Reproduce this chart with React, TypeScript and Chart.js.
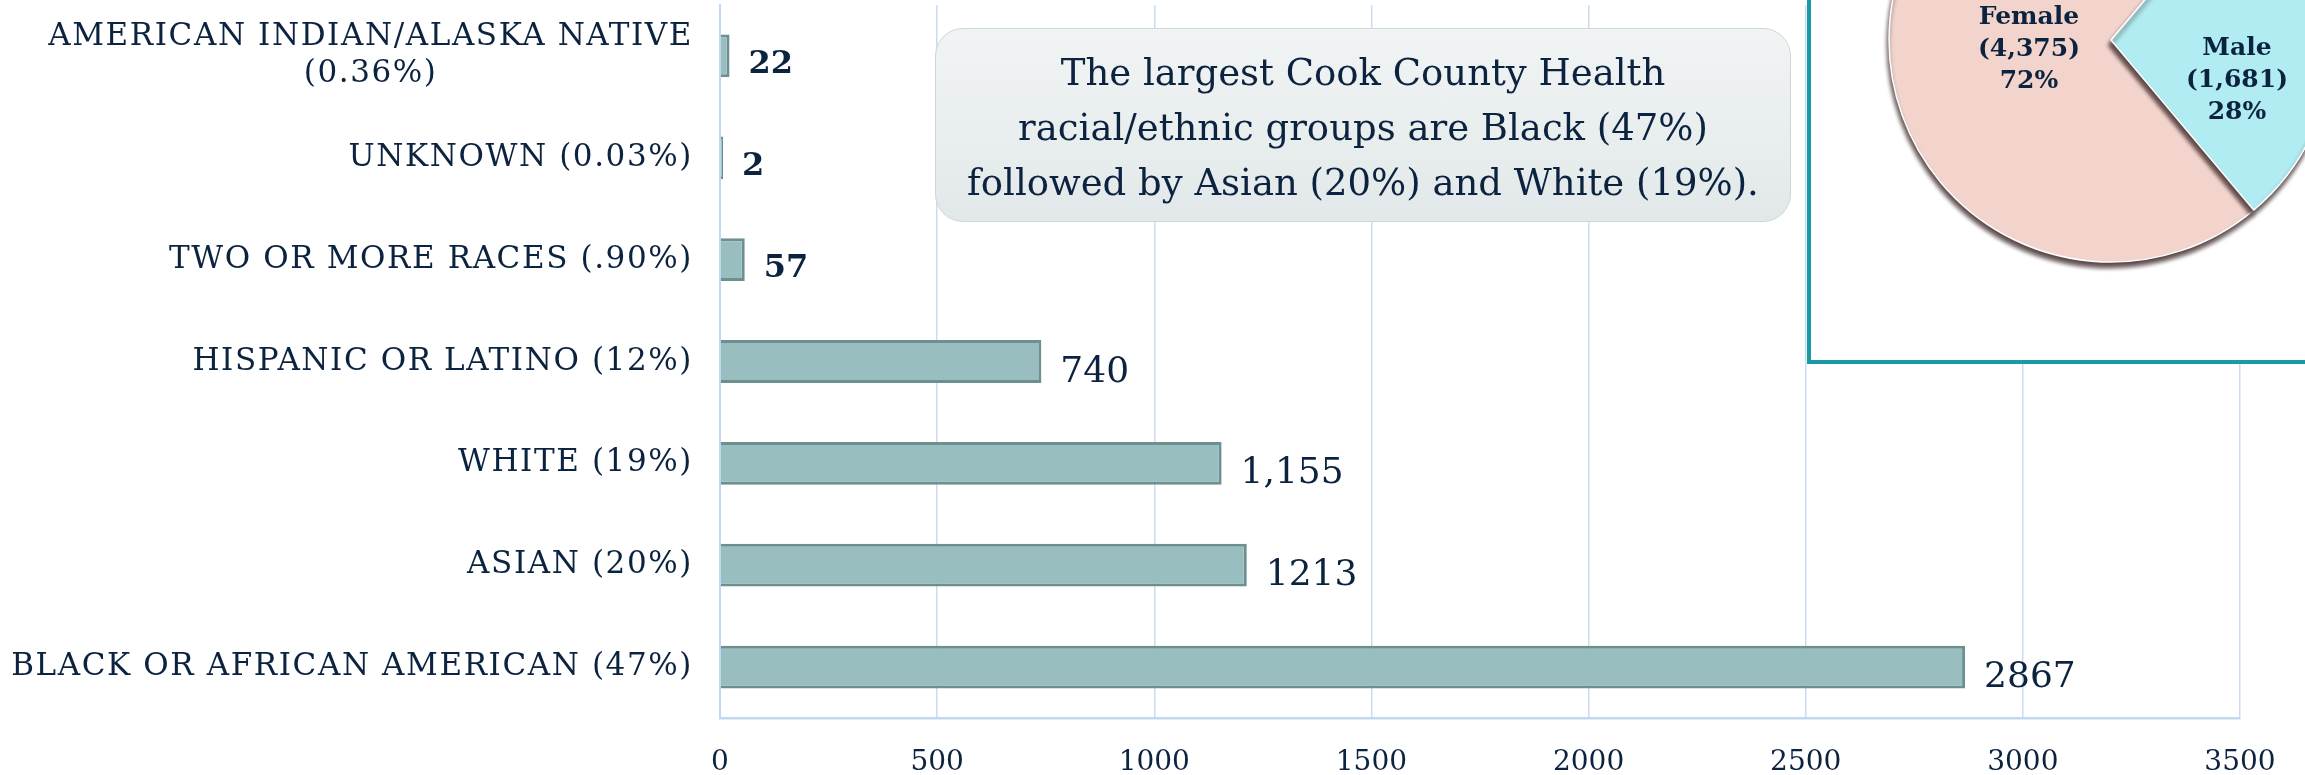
import React, { useEffect, useRef } from "react";
import { Chart, registerables } from "chart.js";

Chart.register(...registerables);

// ---------- data ----------
const categoryLabels: string[][] = [
  ["AMERICAN INDIAN/ALASKA NATIVE", "(0.36%)"],
  ["UNKNOWN (0.03%)"],
  ["TWO OR MORE RACES (.90%)"],
  ["HISPANIC OR LATINO (12%)"],
  ["WHITE (19%)"],
  ["ASIAN (20%)"],
  ["BLACK OR AFRICAN AMERICAN (47%)"],
];
const employeeCounts = [22, 2, 57, 740, 1155, 1213, 2867];
const countLabels = ["22", "2", "57", "740", "1,155", "1213", "2867"];
const xTickValues = [0, 500, 1000, 1500, 2000, 2500, 3000, 3500];

const genderLabels = ["Female", "Male"];
const genderCounts = [4375, 1681];
const genderPercents = ["72%", "28%"];

const calloutLines = [
  "The largest Cook County Health",
  "racial/ethnic groups are Black (47%)",
  "followed by Asian (20%) and White (19%).",
];

// ---------- styles ----------
const NAVY = "#0c2340";
const SERIF = '"DejaVu Serif", "Liberation Serif", serif';
const pieLabelOffsets = [
  [29, 10],
  [15, 40],
];

const yLabelPlugin = {
  id: "yLabels",
  afterDraw(chart: any) {
    const ys = chart.scales.y;
    const ctx = chart.ctx as CanvasRenderingContext2D;
    ctx.save();
    ctx.font = `31px ${SERIF}`;
    (ctx as any).letterSpacing = "1.6px";
    ctx.fillStyle = NAVY;
    ctx.textBaseline = "middle";
    ctx.textAlign = "center";
    const right = chart.chartArea.left - 27;
    const lh = 37;
    categoryLabels.forEach((lines, i) => {
      const yc = ys.getPixelForTick(i);
      const maxW = Math.max(...lines.map((l) => ctx.measureText(l).width));
      const cx = right - maxW / 2;
      lines.forEach((l, j) => {
        ctx.fillText(l, cx, yc + (j - (lines.length - 1) / 2) * lh);
      });
    });
    ctx.restore();
  },
};

const barLabelPlugin = {
  id: "barLabels",
  afterDatasetsDraw(chart: any) {
    const ctx = chart.ctx as CanvasRenderingContext2D;
    const meta = chart.getDatasetMeta(0);
    ctx.save();
    ctx.fillStyle = NAVY;
    ctx.textAlign = "left";
    ctx.textBaseline = "alphabetic";
    meta.data.forEach((bar: any, i: number) => {
      const small = employeeCounts[i] < 100;
      ctx.font = small ? `bold 32px ${SERIF}` : `36px ${SERIF}`;
      ctx.fillText(countLabels[i], bar.x + 19, bar.y + (small ? 17 : 20));
    });
    ctx.restore();
  },
};

const pieShadowPlugin = {
  id: "pieShadow",
  beforeDatasetsDraw(chart: any) {
    const c = chart.ctx as CanvasRenderingContext2D;
    c.save();
    c.shadowColor = "rgba(70,50,50,0.9)";
    c.shadowBlur = 4;
    c.shadowOffsetX = -1;
    c.shadowOffsetY = 5;
  },
  afterDatasetsDraw(chart: any) {
    chart.ctx.restore();
  },
};

const pieLabelPlugin = {
  id: "pieLabels",
  afterDraw(chart: any) {
    const ctx = chart.ctx as CanvasRenderingContext2D;
    const meta = chart.getDatasetMeta(0);
    ctx.save();
    ctx.fillStyle = NAVY;
    ctx.font = `bold 25px ${SERIF}`;
    ctx.textAlign = "center";
    ctx.textBaseline = "middle";
    meta.data.forEach((arc: any, i: number) => {
      const p = arc.tooltipPosition(false);
      const x = p.x + pieLabelOffsets[i][0];
      const y = p.y + pieLabelOffsets[i][1];
      const lines = [
        genderLabels[i],
        `(${genderCounts[i].toLocaleString("en-US")})`,
        genderPercents[i],
      ];
      lines.forEach((l, j) => ctx.fillText(l, x, y + (j - 1) * 32));
    });
    ctx.restore();
  },
};

export default function App() {
  const barRef = useRef<HTMLCanvasElement>(null);
  const pieRef = useRef<HTMLCanvasElement>(null);

  useEffect(() => {
    const bar = new Chart(barRef.current as HTMLCanvasElement, {
      type: "bar",
      data: {
        labels: categoryLabels,
        datasets: [
          {
            data: employeeCounts,
            backgroundColor: "#98bec0",
            borderColor: "#6e8f90",
            borderWidth: 3,
            borderSkipped: "start",
            barPercentage: 0.42,
            categoryPercentage: 1,
            minBarLength: 3,
          },
        ],
      },
      options: {
        indexAxis: "y",
        responsive: false,
        animation: false,
        layout: { padding: { left: 0, right: 65, top: 5, bottom: 0 } },
        plugins: { legend: { display: false }, tooltip: { enabled: false } },
        scales: {
          x: {
            type: "linear",
            min: 0,
            max: 3500,
            afterBuildTicks: (s: any) => {
              s.ticks = xTickValues.map((v) => ({ value: v }));
            },
            afterFit: (s: any) => {
              s.height = 57;
            },
            ticks: {
              callback: (v: any) => String(v),
              font: { family: SERIF, size: 28 },
              color: NAVY,
              padding: 28,
            },
            grid: { color: "#c9dcf1", lineWidth: 1.5, drawTicks: false },
            border: { color: "#c2d8f2", width: 2.5 },
          },
          y: {
            type: "category",
            ticks: { display: false },
            grid: { display: false, drawTicks: false },
            border: { color: "#c2d8f2", width: 2 },
            afterFit: (s: any) => {
              s.width = 720;
            },
          },
        },
      } as any,
      plugins: [barLabelPlugin, yLabelPlugin],
    });

    const pie = new Chart(pieRef.current as HTMLCanvasElement, {
      type: "pie",
      data: {
        labels: genderLabels,
        datasets: [
          {
            data: genderCounts,
            backgroundColor: ["#f2d4cd", "#b0ecf2"],
            borderColor: "#ffffff",
            borderWidth: 1.5,
            radius: 222,
            hoverOffset: 0,
          },
        ],
      },
      options: {
        responsive: false,
        animation: false,
        rotation: 140,
        layout: { padding: 0 },
        plugins: { legend: { display: false }, tooltip: { enabled: false } },
      } as any,
      plugins: [pieShadowPlugin, pieLabelPlugin],
    });

    return () => {
      bar.destroy();
      pie.destroy();
    };
  }, []);

  return (
    <div
      style={{
        position: "fixed",
        left: 0,
        top: 0,
        width: 2305,
        height: 775,
        overflow: "hidden",
        background: "#ffffff",
      }}
    >
      <canvas
        ref={barRef}
        width={2305}
        height={775}
        style={{ position: "absolute", left: 0, top: 0, display: "block" }}
      />
      <div
        style={{
          position: "absolute",
          left: 935,
          top: 28,
          width: 856,
          height: 194,
          boxSizing: "border-box",
          borderRadius: 28,
          border: "1.5px solid #cdd6d8",
          background: "linear-gradient(#f1f4f5, #e2e8e9)",
          color: NAVY,
          fontFamily: SERIF,
          fontSize: 37,
          lineHeight: "55px",
          textAlign: "center",
          paddingTop: 16,
          whiteSpace: "nowrap",
        }}
      >
        {calloutLines.map((l, i) => (
          <div key={i}>{l}</div>
        ))}
      </div>
      <div
        style={{
          position: "absolute",
          left: 1807,
          top: -10,
          width: 540,
          height: 374,
          boxSizing: "border-box",
          border: "4px solid #1a9ba3",
          background: "#ffffff",
          overflow: "hidden",
        }}
      >
        <canvas
          ref={pieRef}
          width={520}
          height={520}
          style={{ position: "absolute", left: 40, top: -214, display: "block" }}
        />
      </div>
    </div>
  );
}
